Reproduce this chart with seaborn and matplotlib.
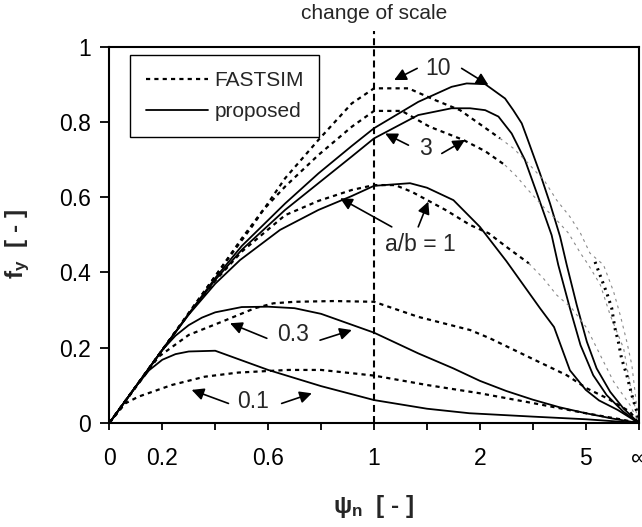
import matplotlib
matplotlib.use("Agg")
import matplotlib.pyplot as plt
from matplotlib.lines import Line2D
import numpy as np
import pandas as pd
import seaborn as sns

# ---------------- data (x in axis units: 0..1 linear psi, 1..2 compressed 1..inf) -------------
x_tick_pos = [0, 0.2, 0.4, 0.6, 0.8, 1.0, 1.2, 1.4, 1.6, 1.8, 2.0]
x_tick_labels = ["0", "0.2", "", "0.6", "", "1", "", "2", "", "5", "∞"]
y_tick_pos = [0, 0.2, 0.4, 0.6, 0.8, 1.0]
y_tick_labels = ["0", "0.2", "0.4", "0.6", "0.8", "1"]

# proposed (solid)
prop_01_x = [0, 0.1, 0.15, 0.2, 0.25, 0.3, 0.4, 0.6, 0.8, 1.0, 1.2, 1.36, 1.6, 1.8, 2.0]
prop_01_y = [0, 0.097, 0.14, 0.168, 0.183, 0.19, 0.192, 0.141, 0.098, 0.061, 0.038, 0.026, 0.017, 0.01, 0]

prop_03_x = [0, 0.2, 0.25, 0.3, 0.35, 0.4, 0.5, 0.6, 0.7, 0.8, 1.0, 1.167, 1.3, 1.4, 1.5, 1.6, 1.7, 1.8, 1.9, 2.0]
prop_03_y = [0, 0.194, 0.232, 0.26, 0.28, 0.294, 0.308, 0.309, 0.305, 0.29, 0.24, 0.185, 0.145, 0.112, 0.085, 0.062, 0.042, 0.026, 0.012, 0]

prop_1_x = [0, 0.2, 0.3, 0.4, 0.494, 0.645, 0.79, 0.916, 1.0, 1.136, 1.2, 1.3, 1.4, 1.5, 1.627, 1.68, 1.74, 1.8, 1.85, 1.92, 2.0]
prop_1_y = [0, 0.194, 0.288, 0.37, 0.433, 0.513, 0.566, 0.603, 0.63, 0.637, 0.625, 0.592, 0.521, 0.43, 0.305, 0.255, 0.14, 0.088, 0.06, 0.035, 0]

prop_3_x = [0, 0.2, 0.3, 0.4, 0.5, 0.664, 0.79, 0.916, 1.0, 1.167, 1.293, 1.363, 1.42, 1.47, 1.52, 1.57, 1.62, 1.671, 1.696, 1.74, 1.78, 1.828, 1.879, 1.942, 2.0]
prop_3_y = [0, 0.194, 0.29, 0.38, 0.46, 0.566, 0.637, 0.708, 0.756, 0.818, 0.836, 0.836, 0.831, 0.814, 0.769, 0.699, 0.601, 0.499, 0.42, 0.305, 0.207, 0.127, 0.074, 0.03, 0]

prop_10_x = [0, 0.2, 0.3, 0.4, 0.5, 0.664, 0.79, 0.916, 1.0, 1.167, 1.293, 1.35, 1.42, 1.495, 1.526, 1.558, 1.577, 1.627, 1.665, 1.703, 1.728, 1.766, 1.804, 1.841, 1.892, 1.942, 2.0]
prop_10_y = [0, 0.194, 0.29, 0.385, 0.47, 0.583, 0.663, 0.736, 0.783, 0.853, 0.893, 0.902, 0.9, 0.862, 0.831, 0.796, 0.76, 0.663, 0.583, 0.495, 0.42, 0.313, 0.216, 0.145, 0.083, 0.039, 0]

# FASTSIM (dotted)
fast_01_x = [0, 0.06, 0.11, 0.236, 0.36, 0.487, 0.676, 0.8, 1.0, 1.2, 1.4, 1.6, 1.8, 1.93, 2.0]
fast_01_y = [0, 0.052, 0.07, 0.101, 0.123, 0.134, 0.141, 0.141, 0.126, 0.101, 0.079, 0.053, 0.026, 0.01, 0]

fast_03_x = [0, 0.1, 0.186, 0.3, 0.425, 0.55, 0.62, 0.7, 0.85, 1.0, 1.167, 1.363, 1.438, 1.6, 1.728, 1.804, 1.88, 1.967, 2.0]
fast_03_y = [0, 0.095, 0.176, 0.234, 0.269, 0.305, 0.318, 0.322, 0.324, 0.322, 0.282, 0.247, 0.225, 0.17, 0.127, 0.092, 0.066, 0.03, 0]

fast_1_x = [0, 0.2, 0.3, 0.4, 0.5, 0.664, 0.79, 0.916, 1.0, 1.08, 1.143, 1.27, 1.363, 1.433, 1.5, 1.585]
fast_1_y = [0, 0.194, 0.29, 0.378, 0.455, 0.552, 0.59, 0.619, 0.632, 0.632, 0.614, 0.566, 0.526, 0.504, 0.468, 0.424]
fast_1_tail_x = [1.585, 1.64, 1.69, 1.747, 1.804, 1.855, 1.905, 1.967, 2.0]
fast_1_tail_y = [0.424, 0.384, 0.34, 0.305, 0.252, 0.18, 0.11, 0.048, 0]

fast_3_x = [0, 0.2, 0.4, 0.5, 0.58, 0.664, 0.79, 0.916, 1.0, 1.105, 1.21, 1.337, 1.42, 1.495]
fast_3_y = [0, 0.194, 0.39, 0.49, 0.565, 0.628, 0.712, 0.787, 0.829, 0.829, 0.787, 0.752, 0.722, 0.685]
fast_3_tail_x = [1.495, 1.54, 1.577, 1.64, 1.69, 1.735, 1.78, 1.81, 1.855, 1.892, 1.943, 1.97, 2.0]
fast_3_tail_y = [0.685, 0.654, 0.623, 0.574, 0.539, 0.504, 0.451, 0.42, 0.367, 0.287, 0.198, 0.092, 0]

fast_10_x = [0, 0.2, 0.4, 0.538, 0.664, 0.79, 0.916, 1.0, 1.13, 1.23, 1.325, 1.44, 1.476]
fast_10_y = [0, 0.194, 0.39, 0.521, 0.65, 0.752, 0.849, 0.889, 0.889, 0.858, 0.831, 0.774, 0.756]
fast_10_tail_x = [1.476, 1.526, 1.577, 1.646, 1.69, 1.74, 1.78, 1.816, 1.867, 1.905, 1.93, 1.955, 1.974, 1.986, 2.0]
fast_10_tail_y = [0.756, 0.73, 0.694, 0.641, 0.592, 0.548, 0.504, 0.451, 0.42, 0.349, 0.287, 0.216, 0.154, 0.083, 0]
fast_10_end_x = [1.835, 1.88, 1.898, 1.91, 1.923, 1.935, 1.955, 1.974, 1.993, 2.0]
fast_10_end_y = [0.428, 0.344, 0.305, 0.252, 0.216, 0.172, 0.127, 0.074, 0.03, 0]

# ---------------- style ----------------
sns.set_style("ticks")
plt.rcParams["font.family"] = ["Liberation Sans", "DejaVu Sans"]
plt.rcParams["mathtext.fontset"] = "custom"
plt.rcParams["mathtext.rm"] = "Liberation Sans"
plt.rcParams["mathtext.bf"] = "Liberation Sans:bold"
plt.rcParams["mathtext.it"] = "Liberation Sans:italic"
plt.rcParams["lines.scale_dashes"] = False

fig = plt.figure(figsize=(6.42, 5.27), dpi=100)
ax = fig.add_axes([0.1703, 0.1973, 0.8246, 0.7144])

DOT = (0, (3.0, 3.0))
GREY = (0, (2.0, 3.0))


def draw(x, y, **kw):
    df = pd.DataFrame({"x": x, "y": y})
    sns.lineplot(data=df, x="x", y="y", ax=ax, sort=False, estimator=None,
                 legend=False, **kw)


for xs, ys in [(prop_01_x, prop_01_y), (prop_03_x, prop_03_y), (prop_1_x, prop_1_y),
               (prop_3_x, prop_3_y), (prop_10_x, prop_10_y)]:
    draw(xs, ys, color="k", lw=1.3, linestyle="-")

for xs, ys in [(fast_01_x, fast_01_y), (fast_03_x, fast_03_y), (fast_1_x, fast_1_y),
               (fast_3_x, fast_3_y), (fast_10_x, fast_10_y)]:
    draw(xs, ys, color="k", lw=1.6, linestyle=DOT)

for xs, ys in [(fast_1_tail_x, fast_1_tail_y), (fast_3_tail_x, fast_3_tail_y),
               (fast_10_tail_x, fast_10_tail_y)]:
    draw(xs, ys, color="#8a8a8a", lw=0.8, linestyle=GREY)

draw(fast_10_end_x, fast_10_end_y, color="k", lw=2.2, linestyle=(0, (1.5, 3.5)))

# change of scale line
ax.axvline(1.0, ymin=0, ymax=1.042, color="k", lw=1.5, linestyle=(0, (5, 3)),
           clip_on=False, zorder=3)
ax.text(1.0, 1.089, "change of scale", ha="center", va="center", fontsize=15,
        clip_on=False)

# axes
ax.set_xlim(0, 2.0)
ax.set_ylim(0, 1.0)
ax.set_xticks(x_tick_pos)
ax.set_xticklabels(x_tick_labels)
ax.set_yticks(y_tick_pos)
ax.set_yticklabels(y_tick_labels)
ax.tick_params(axis="both", direction="out", width=1.3, labelsize=16.5, colors="k")
ax.tick_params(axis="x", length=5, pad=12)
ax.tick_params(axis="y", length=6.5, pad=7)
for s in ax.spines.values():
    s.set_visible(True)
    s.set_linewidth(1.5)
    s.set_color("k")

ax.set_xlabel(r"$\mathregular{\psi_n}$  [ - ]", fontsize=17.5, fontweight="bold")
ax.set_ylabel(r"$\mathbf{f_y}$  [ - ]", fontsize=17.5, fontweight="bold")
ax.xaxis.set_label_coords(0.5, -0.185)
ax.yaxis.set_label_coords(-0.146, 0.475)

# legend
handles = [Line2D([], [], color="k", lw=1.6, linestyle=DOT),
           Line2D([], [], color="k", lw=1.3)]
leg = ax.legend(handles, ["FASTSIM", "proposed"], loc="upper left",
                bbox_to_anchor=(0.039, 0.977), borderaxespad=0, frameon=True,
                fancybox=False, edgecolor="k", framealpha=1, fontsize=15,
                handlelength=3.0, handletextpad=0.3, borderpad=0.75,
                labelspacing=0.6)
leg.get_frame().set_linewidth(1.0)

# annotations
arrow = dict(arrowstyle="-|>", color="k", lw=1.2, mutation_scale=18, shrinkA=0, shrinkB=0)
labels = [
    ("10", (1.243, 0.942), [((1.163, 0.942), (1.076, 0.911)), ((1.331, 0.942), (1.432, 0.898))]),
    ("3", (1.193, 0.730), [((1.13, 0.738), (1.042, 0.769)), ((1.256, 0.716), (1.344, 0.752))]),
    ("a/b = 1", (1.174, 0.473), [((1.067, 0.521), (0.872, 0.597)), ((1.167, 0.521), (1.205, 0.588))]),
    ("0.3", (0.695, 0.234), [((0.595, 0.225), (0.456, 0.265)), ((0.796, 0.220), (0.916, 0.247))]),
    ("0.1", (0.544, 0.057), [((0.45, 0.052), (0.311, 0.088)), ((0.651, 0.052), (0.765, 0.079))]),
]
for txt, pos, arrs in labels:
    ax.text(pos[0], pos[1], txt, ha="center", va="center", fontsize=16.5)
    for tail, tip in arrs:
        ax.annotate("", xy=tip, xytext=tail, arrowprops=arrow)

fig.savefig("out.png", dpi=100)
